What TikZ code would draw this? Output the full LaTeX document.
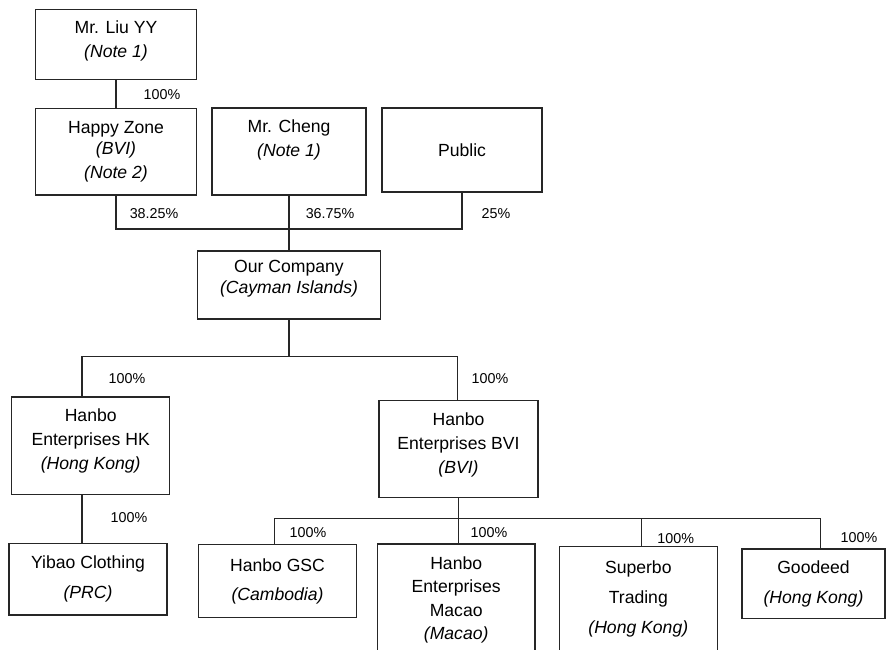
\documentclass[tikz,border=0pt]{standalone}
\usepackage{fontspec}
\setmainfont{Liberation Sans}

\tikzset{
  entity/.style={draw=black!85, line width=1.4pt, align=center, inner sep=0pt,
    font=\fontsize{17.6}{24}\selectfont},
  loose/.style={font=\fontsize{17.6}{30}\selectfont},
  tight/.style={font=\fontsize{17.6}{21.5}\selectfont},
  share/.style={font=\fontsize{14.3}{16}\selectfont, inner sep=0pt},
  link/.style={draw=black!85, line width=1.4pt},
}

\begin{document}
\begin{tikzpicture}[x=1pt,y=-1pt]

\useasboundingbox (0,0) rectangle (887,649);
\clip (0,0) rectangle (887,649);

% Shareholders
\node[entity, minimum width=160.6pt, minimum height=70pt, text depth=12pt] (liu) at (116,44.7) {Mr. Liu YY\\\textit{(Note 1)}};
\node[entity, minimum width=160.6pt, minimum height=86.7pt] (hz) at (116,151.7) {Happy Zone\\[-3pt]\textit{(BVI)}\\\textit{(Note 2)}};
\node[entity, minimum width=154pt, minimum height=87pt, text depth=26pt] (cheng) at (289,151.5) {Mr. Cheng\\\textit{(Note 1)}};
\node[entity, minimum width=160.3pt, minimum height=84pt] (public) at (462,150) {Public};

% Listed company
\node[entity, tight, minimum width=183pt, minimum height=68.3pt, text depth=16pt] (oc) at (289,285) {Our Company\\\textit{(Cayman Islands)}};

% Subsidiaries
\node[entity, minimum width=158pt, minimum height=97.3pt, text depth=13pt] (hk) at (90.7,445.7) {Hanbo\\Enterprises HK\\\textit{(Hong Kong)}};
\node[entity, minimum width=158.7pt, minimum height=97pt, text depth=12pt] (bvi) at (458.5,449) {Hanbo\\Enterprises BVI\\\textit{(BVI)}};
\node[entity, loose, minimum width=158pt, minimum height=71.7pt] (yibao) at (88,579.2) {Yibao Clothing\\\textit{(PRC)}};
\node[entity, loose, minimum width=158.3pt, minimum height=73.4pt] (gsc) at (277.5,581) {Hanbo GSC\\[-1pt]\textit{(Cambodia)}};
\node[entity, minimum width=157.7pt, minimum height=112pt] (macao) at (456.2,600) {Hanbo\\[-0.7pt]Enterprises\\[-0.7pt]Macao\\[-0.7pt]\textit{(Macao)}};
\node[entity, loose, minimum width=158pt, minimum height=104.6pt] (superbo) at (638.3,599) {Superbo\\Trading\\\textit{(Hong Kong)}};
\node[entity, loose, minimum width=143pt, minimum height=69.3pt] (goodeed) at (813.5,583.7) {Goodeed\\\textit{(Hong Kong)}};

% Holding lines
\coordinate (holdbar) at (289,229);
\draw[link] (liu) -- (hz);
\draw[link] (hz.south) |- (holdbar) -| (public.south);
\draw[link] (cheng) -- (oc);

\coordinate (hktap) at (82,356.3);
\coordinate (bvitap) at (457.7,356.3);
\draw[link] (oc.south) -- (oc.south |- hktap);
\draw[link] (hk.north -| hktap) -- (hktap) -- (bvitap) -- (bvitap |- bvi.north);
\draw[link] (hk.south -| hktap) -- (yibao.north -| hktap);

\coordinate (gsctap) at (274.7,518.5);
\coordinate (suptap) at (641.7,518.5);
\coordinate (goodtap) at (820.7,518.5);
\draw[link] (bvi.south) -- (bvi.south |- macao.north);
\draw[link] (gsc.north -| gsctap) -- (gsctap) -- (goodtap) -- (goodtap |- goodeed.north);
\draw[link] (suptap) -- (suptap |- superbo.north);

% Shares
\node[share] (s1) at (162,95) {100\%};
\node[share] (s2) at (154,214) {38.25\%};
\node[share] (s3) at (330,214) {36.75\%};
\node[share] (s4) at (496,214) {25\%};
\node[share] (s5) at (127,379) {100\%};
\node[share] (s6) at (490,379) {100\%};
\node[share] (s7) at (129,517.7) {100\%};
\node[share] (s8) at (308,532.7) {100\%};
\node[share] (s9) at (489,533) {100\%};
\node[share] (s10) at (675.7,538.3) {100\%};
\node[share] (s11) at (859,538) {100\%};

\end{tikzpicture}
\end{document}
